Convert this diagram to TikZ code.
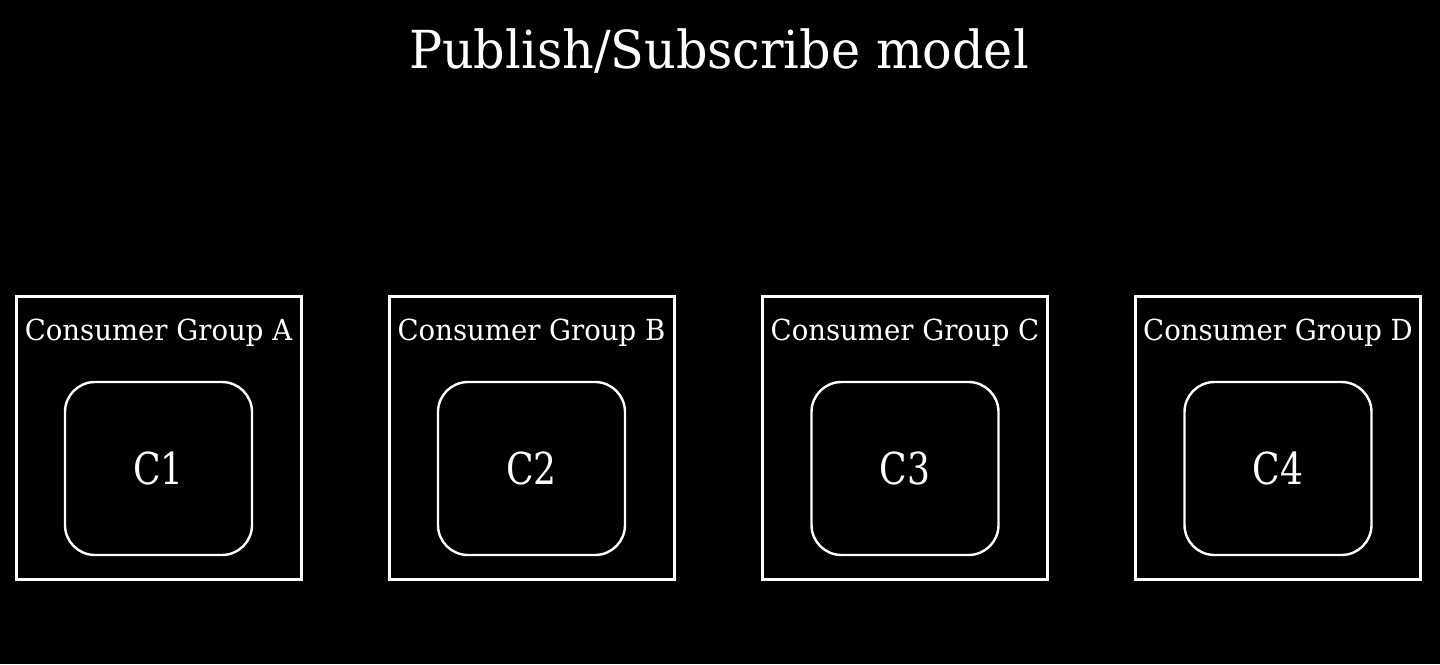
\documentclass[tikz,border=0pt]{standalone}
\usepackage{fontspec}
\setmainfont{DejaVu Serif}
\newfontfamily\titlefont{DejaVu Serif}[FakeStretch=0.94]
\newfontfamily\labelfont{DejaVu Serif}[FakeStretch=0.95]
\newfontfamily\cfont{DejaVu Serif}[FakeStretch=0.82]
\begin{document}
\begin{tikzpicture}[x=0.5pt,y=-0.5pt,
  groupbox/.style={draw=white,line width=1.5pt,minimum width=142.5pt,minimum height=141.5pt,inner sep=0pt},
  consumer/.style={draw=white,line width=1.2pt,rounded corners=15pt,minimum width=93.5pt,minimum height=86.5pt,inner sep=0pt,text=white,font=\cfont\fontsize{22}{26}\selectfont},
  grouplabel/.style={text=white,font=\labelfont\fontsize{14.5}{17}\selectfont,inner sep=0pt},
  titlestyle/.style={text=white,font=\titlefont\fontsize{26.2}{30}\selectfont,inner sep=0pt}]
\fill[black] (0,0) rectangle (1440,664);
\useasboundingbox (0,0) rectangle (1440,664);
\node[titlestyle] (title) at (719,51) {Publish/Subscribe model};
\foreach \n/\x/\g in {1/158.5/A,2/531.5/B,3/905/C,4/1278/D}{
  \node[groupbox] (g\n) at (\x,437.5) {};
  \node[grouplabel] (l\n) at (\x,333) {Consumer Group \g};
  \node[consumer] (c\n) at (\x,468.5) {C\n};
}
\end{tikzpicture}
\end{document}
